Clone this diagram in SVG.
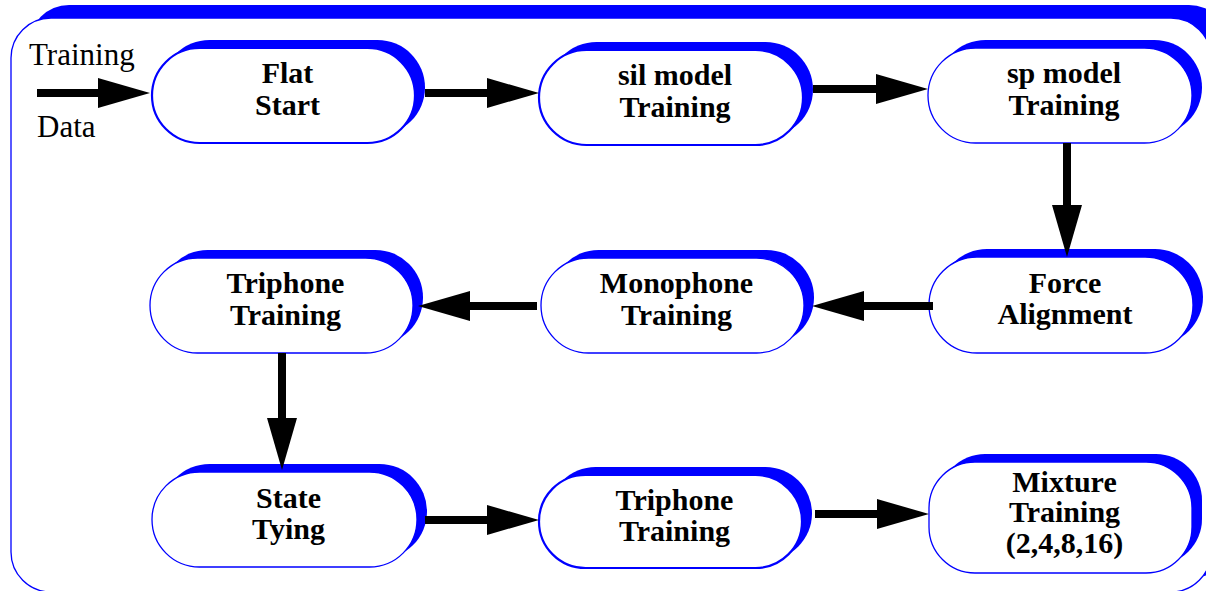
<svg xmlns="http://www.w3.org/2000/svg" width="1206" height="591" viewBox="0 0 1206 591">
  <style>
    .shadow { fill: #0000ff; stroke: none; }
    .body { fill: #ffffff; stroke: #0000ff; stroke-width: 1.3; }
    .body.heavy { stroke-width: 2.2; }
    .label { font-family: "Liberation Serif", "Times New Roman", serif; font-size: 30px; font-weight: bold; fill: #000; text-anchor: middle; }
    .plain { font-family: "Liberation Serif", "Times New Roman", serif; font-size: 31px; fill: #000; }
    .flow { stroke: #000; stroke-width: 8; fill: none; marker-end: url(#head); }
  </style>
  <defs>
    <marker id="head" viewBox="0 0 52 30" refX="0" refY="15" markerWidth="52" markerHeight="30" markerUnits="userSpaceOnUse" orient="auto">
      <path d="M0,0 L52,15 L0,30 Z" fill="#000"/>
    </marker>
  </defs>

  <!-- outer frame with raised shadow -->
  <g id="frame">
    <rect class="shadow" x="29" y="5" width="1200" height="574" rx="40"/>
    <rect class="body" x="11" y="18" width="1200" height="574" rx="40"/>
  </g>

  <!-- input label -->
  <g id="input">
    <text class="plain" x="29" y="65">Training</text>
    <text class="plain" x="37" y="137">Data</text>
  </g>

  <!-- stages -->
  <g id="flat-start">
    <rect class="shadow" x="162" y="40" width="263" height="95" rx="47.5"/>
    <rect class="body heavy" x="152" y="48" width="263" height="95" rx="47.5"/>
    <text class="label" x="287.5" y="83">Flat</text>
    <text class="label" x="287.5" y="115">Start</text>
  </g>
  <g id="sil-model">
    <rect class="shadow" x="549" y="42" width="264" height="95" rx="47.5"/>
    <rect class="body heavy" x="539" y="50" width="264" height="95" rx="47.5"/>
    <text class="label" x="675" y="85">sil model</text>
    <text class="label" x="675" y="117">Training</text>
  </g>
  <g id="sp-model">
    <rect class="shadow" x="938" y="40" width="264" height="95" rx="47.5"/>
    <rect class="body" x="928" y="48" width="264" height="95" rx="47.5"/>
    <text class="label" x="1064" y="83">sp model</text>
    <text class="label" x="1064" y="115">Training</text>
  </g>
  <g id="force-alignment">
    <rect class="shadow" x="939" y="249" width="264" height="96" rx="48"/>
    <rect class="body" x="929" y="257" width="264" height="96" rx="48"/>
    <text class="label" x="1065" y="293">Force</text>
    <text class="label" x="1065" y="324">Alignment</text>
  </g>
  <g id="monophone">
    <rect class="shadow" x="551" y="250" width="263" height="95" rx="47.5"/>
    <rect class="body" x="541" y="258" width="263" height="95" rx="47.5"/>
    <text class="label" x="676.5" y="293">Monophone</text>
    <text class="label" x="676.5" y="325">Training</text>
  </g>
  <g id="triphone-1">
    <rect class="shadow" x="160" y="250" width="263" height="95" rx="47.5"/>
    <rect class="body" x="150" y="258" width="263" height="95" rx="47.5"/>
    <text class="label" x="285.5" y="293">Triphone</text>
    <text class="label" x="285.5" y="325">Training</text>
  </g>
  <g id="state-tying">
    <rect class="shadow" x="162" y="464" width="265" height="95" rx="47.5"/>
    <rect class="body" x="152" y="472" width="265" height="95" rx="47.5"/>
    <text class="label" x="288.5" y="508">State</text>
    <text class="label" x="288.5" y="539">Tying</text>
  </g>
  <g id="triphone-2">
    <rect class="shadow" x="549" y="467" width="263" height="93" rx="46.5"/>
    <rect class="body heavy" x="539" y="475" width="263" height="93" rx="46.5"/>
    <text class="label" x="674.5" y="510">Triphone</text>
    <text class="label" x="674.5" y="541">Training</text>
  </g>
  <g id="mixture">
    <rect class="shadow" x="939" y="454" width="263" height="111" rx="46"/>
    <rect class="body" x="929" y="462" width="263" height="111" rx="46"/>
    <text class="label" x="1064.5" y="492">Mixture</text>
    <text class="label" x="1064.5" y="522">Training</text>
    <text class="label" x="1064.5" y="553">(2,4,8,16)</text>
  </g>

  <!-- connectors -->
  <g id="connectors">
    <line class="flow" x1="37" y1="93" x2="98" y2="93"/>
    <line class="flow" x1="425" y1="93" x2="487" y2="93"/>
    <line class="flow" x1="813" y1="89" x2="876" y2="89"/>
    <line class="flow" x1="1067" y1="143" x2="1067" y2="205"/>
    <line class="flow" x1="933" y1="306" x2="864" y2="306"/>
    <line class="flow" x1="537" y1="306" x2="470" y2="306"/>
    <line class="flow" x1="282" y1="353" x2="282" y2="418"/>
    <line class="flow" x1="425" y1="520" x2="487" y2="520"/>
    <line class="flow" x1="815" y1="514" x2="877" y2="514"/>
  </g>
</svg>
